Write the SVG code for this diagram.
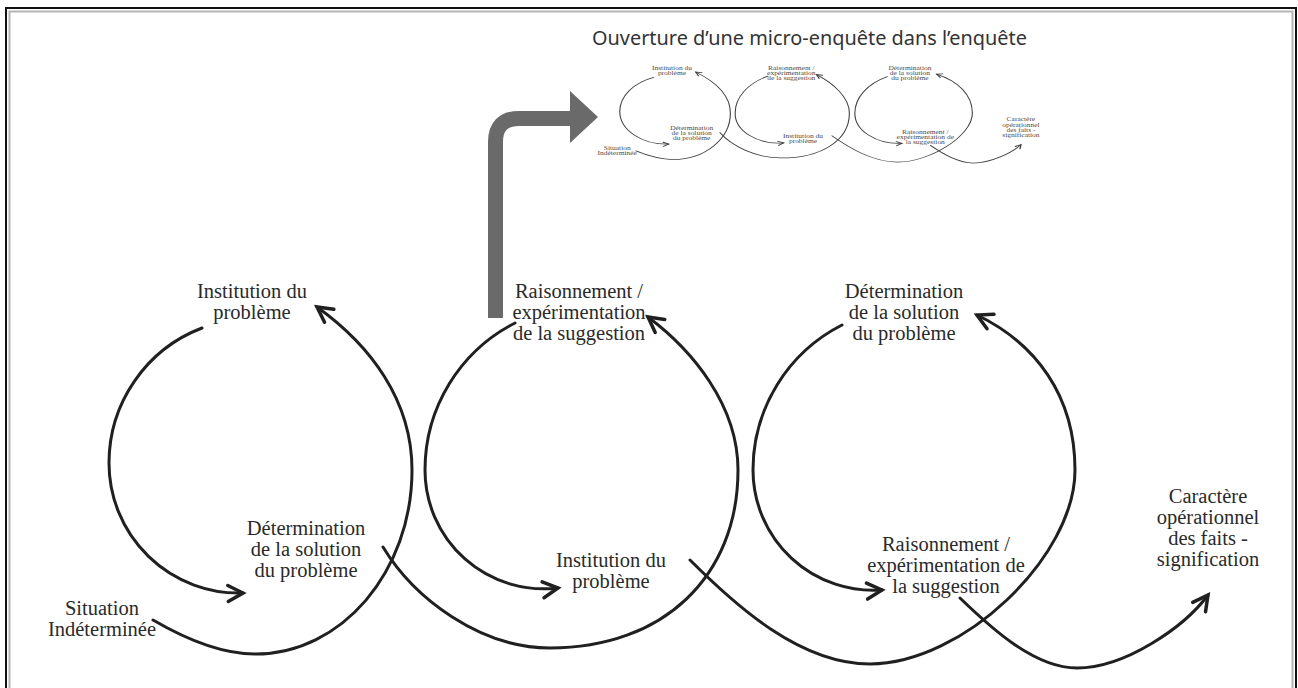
<svg xmlns="http://www.w3.org/2000/svg" xmlns:xlink="http://www.w3.org/1999/xlink" width="1298" height="688" viewBox="0 0 1298 688">
<style>
.lbl{font-family:"Liberation Serif","Times New Roman",serif;font-size:20.5px;fill:#2a2a2a;text-anchor:middle}
.title{font-family:"Noto Sans","Open Sans",sans-serif;font-size:19px;fill:#333}
.arc{fill:none;stroke:#202020;stroke-width:3;stroke-linecap:round;marker-end:url(#chev)}
</style>
<defs>
<marker id="chev" markerUnits="userSpaceOnUse" viewBox="-20 -12 24 24" refX="0" refY="0" markerWidth="24" markerHeight="24" orient="auto" overflow="visible">
<path d="M-15,-8 L0,0 L-15,8" fill="none" stroke="#202020" stroke-width="3.5" stroke-linecap="round" stroke-linejoin="miter"/>
</marker>
</defs>
<rect x="0" y="0" width="1298" height="688" fill="#ffffff"/>
<rect x="6" y="8" width="1290" height="690" fill="none" stroke="#111" stroke-width="2"/>
<rect x="9.5" y="11.5" width="1283" height="690" fill="none" stroke="#b4b4b4" stroke-width="2"/>

<text class="title" x="592" y="45" textLength="435" lengthAdjust="spacingAndGlyphs">Ouverture d’une micro-enquête dans l’enquête</text>

<g id="gray-arrow">
<path d="M495.5,318 V142 Q495.5,118.5 519,118.5 H572" fill="none" stroke="#6a6a6a" stroke-width="15"/>
<polygon points="570,91 598,117 570,143" fill="#6a6a6a"/>
</g>

<g id="diagram">
<g id="connectors">
<path class="arc" d="M153,620 C183,637.5 220,654 255,654 C341.7,654 412,571.6 412,470 C412,400 370,345 317,307"/>
<path class="arc" d="M202,328 A144.5,144.5 0 0 0 109,463 A130,130 0 0 0 243,593"/>
<path class="arc" d="M383,547 C414,598.3 480,648 550,648 C662.8,648 738,576.8 738,470 C738,405 692,350 648,317"/>
<path class="arc" d="M515,323 A165,165 0 0 0 425,470 A118.8,118.8 0 0 0 558,588"/>
<path class="arc" d="M690,560 C736,606 800,664 870,664 C962.3,664 1075,557.3 1075,470 C1075,395 1035,343 977,315"/>
<path class="arc" d="M842,325 A162.6,162.6 0 0 0 753,470 A120.3,120.3 0 0 0 882,590"/>
<path class="arc" d="M960,598 C992.3,629.3 1035,668 1077,668 C1125,668 1184.4,627 1208,595"/>
</g>
<g id="n-institution-1"><text class="lbl"><tspan x="252" y="298">Institution du</tspan><tspan x="252" y="319">problème</tspan></text></g>
<g id="n-raisonnement-1"><text class="lbl"><tspan x="579" y="298">Raisonnement /</tspan><tspan x="579" y="319">expérimentation</tspan><tspan x="579" y="340">de la suggestion</tspan></text></g>
<g id="n-determination-2"><text class="lbl"><tspan x="904" y="298">Détermination</tspan><tspan x="904" y="319">de la solution</tspan><tspan x="904" y="340">du problème</tspan></text></g>
<g id="n-determination-1"><text class="lbl"><tspan x="306" y="535">Détermination</tspan><tspan x="306" y="556">de la solution</tspan><tspan x="306" y="577">du problème</tspan></text></g>
<g id="n-situation"><text class="lbl"><tspan x="102" y="615">Situation</tspan><tspan x="102" y="636">Indéterminée</tspan></text></g>
<g id="n-institution-2"><text class="lbl"><tspan x="611" y="567">Institution du</tspan><tspan x="611" y="588">problème</tspan></text></g>
<g id="n-raisonnement-2"><text class="lbl"><tspan x="946" y="551">Raisonnement /</tspan><tspan x="946" y="572">expérimentation de</tspan><tspan x="946" y="593">la suggestion</tspan></text></g>
<g id="n-caractere"><text class="lbl"><tspan x="1208" y="503">Caractère</tspan><tspan x="1208" y="524">opérationnel</tspan><tspan x="1208" y="545">des faits -</tspan><tspan x="1208" y="566">signification</tspan></text></g>
</g>

<g id="micro-enquete" opacity="0.85">
<use href="#diagram" xlink:href="#diagram" transform="matrix(0.365 0 0 0.252 580 -5.3)"/>
</g>
</svg>
